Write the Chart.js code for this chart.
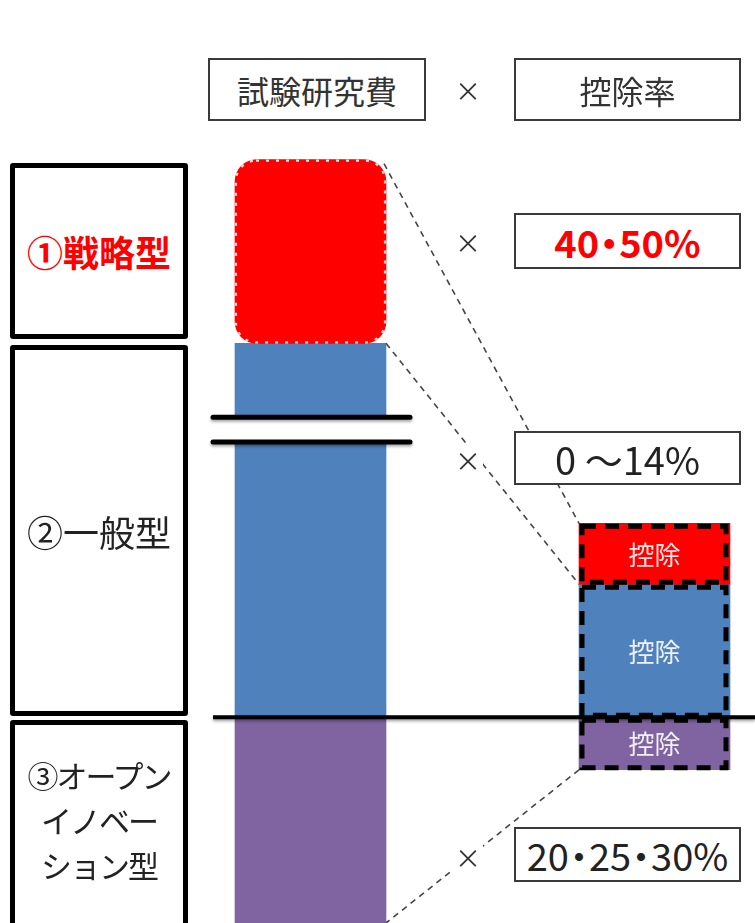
<!DOCTYPE html>
<html><head><meta charset="utf-8">
<script src="https://cdn.jsdelivr.net/npm/chart.js@4/dist/chart.umd.min.js"></script>
<style>
html,body{margin:0;padding:0;background:#fff;width:755px;height:923px;overflow:hidden;}
#wrap{position:relative;width:755px;height:923px;font-family:"Noto Sans CJK JP","Noto Sans",sans-serif;color:#222;}
canvas{position:absolute;left:0;top:0;}
.box{position:absolute;box-sizing:border-box;background:#fff;display:flex;align-items:center;justify-content:center;white-space:nowrap;}
.thin{border:2px solid #3a3a3a;}
.thick{border:5px solid #000;border-radius:3px;}
.x{position:absolute;width:30px;height:34px;margin-left:-15px;margin-top:-17px;background:#fff;font-size:26px;line-height:34px;text-align:center;color:#333;}
.lbl{position:absolute;color:#fff;font-size:26px;line-height:30px;transform:translate(-50%,-50%);opacity:.9;white-space:nowrap;}
.dot{display:inline-block;margin:0 -9px;}
</style></head>
<body>
<div id="wrap">
<canvas id="c" width="755" height="923"></canvas>
</div>
<script>
// ---- data ----
const categories = ['試験研究費', '控除'];
const seriesNames = ['①戦略型', '②一般型', '③オープンイノベーション型'];
const strategicType = [[62.8, 82.7], [36.7, 43.3]];
const generalType = [[22.3, 62.8], [22.3, 36.7]];
const openInnovationType = [[0, 22.3], [16.6, 22.3]];
const headerLabels = ['試験研究費', '控除率'];
const rateLabels = ['40・50%', '0 ～14%', '20・25・30%'];
const segmentLabel = '控除';
const axisBreak = [52.1, 54.8];
const baseline = 22.3;

const colors = ['#ff0000', '#4f81bd', '#8064a2'];

function props(el){ return el.getProps(['x','y','base','width'], true); }

const decor = {
  id: 'decor',
  afterDatasetsDraw(chart) {
    const ctx = chart.ctx, ys = chart.scales.y;
    const m = [0,1,2].map(i => chart.getDatasetMeta(i).data);
    const lRed = props(m[0][0]), lBlue = props(m[1][0]), lPur = props(m[2][0]);
    const rRed = props(m[0][1]), rBlue = props(m[1][1]), rPur = props(m[2][1]);
    ctx.save();
    // dashed light border on rounded strategic bar
    ctx.strokeStyle = 'rgba(255,215,215,1)';
    ctx.lineWidth = 2.2; ctx.setLineDash([3,7]);
    ctx.beginPath();
    ctx.roundRect(lRed.x - lRed.width/2 + 1, lRed.y + 1, lRed.width - 2, lRed.base - lRed.y - 2, 20);
    ctx.stroke();
    // axis break on left bar
    const bTop = ys.getPixelForValue(axisBreak[1]), bBot = ys.getPixelForValue(axisBreak[0]);
    const bx0 = lBlue.x - lBlue.width/2 - 22, bx1 = lBlue.x + lBlue.width/2 + 24;
    ctx.setLineDash([]);
    ctx.fillStyle = '#fff';
    ctx.fillRect(bx0, bTop, bx1 - bx0, bBot - bTop);
    ctx.shadowColor = 'rgba(0,0,0,0.35)'; ctx.shadowBlur = 3; ctx.shadowOffsetY = 2;
    ctx.strokeStyle = '#000'; ctx.lineWidth = 5; ctx.lineCap = 'round';
    [bTop, bBot].forEach(yy => { ctx.beginPath(); ctx.moveTo(bx0, yy); ctx.lineTo(bx1, yy); ctx.stroke(); });
    // baseline
    const by = ys.getPixelForValue(baseline);
    ctx.lineWidth = 4; ctx.lineCap = 'butt';
    ctx.beginPath(); ctx.moveTo(bx0, by); ctx.lineTo(chart.width, by); ctx.stroke();
    ctx.shadowColor = 'transparent';
    // dashed boxes on right segments
    ctx.strokeStyle = '#000'; ctx.lineWidth = 5; ctx.setLineDash([14, 9]);
    [rRed, rBlue, rPur].forEach(b => {
      const x0 = b.x - b.width/2 + 3, x1 = b.x + b.width/2 - 4;
      ctx.strokeRect(x0, b.y + 3, x1 - x0, b.base - b.y - 5);
    });
    // connectors
    ctx.strokeStyle = '#444'; ctx.lineWidth = 1.6; ctx.setLineDash([6, 5]);
    const line = (ax, ay, bx, by2) => { ctx.beginPath(); ctx.moveTo(ax, ay); ctx.lineTo(bx, by2); ctx.stroke(); };
    line(lRed.x + lRed.width/2 - 2, lRed.y + 4, rRed.x - rRed.width/2, rRed.y);
    line(lBlue.x + lBlue.width/2, lBlue.y, rBlue.x - rBlue.width/2, rBlue.y);
    line(rPur.x - rPur.width/2, rPur.base, lPur.x + lPur.width/2, lPur.base);
    ctx.restore();
  }
};

const chart = new Chart(document.getElementById('c'), {
  type: 'bar',
  data: {
    labels: categories,
    datasets: [
      { label: seriesNames[0], data: strategicType, backgroundColor: colors[0], borderSkipped: false,
        borderRadius: c => c.dataIndex === 0 ? 22 : 0 },
      { label: seriesNames[1], data: generalType, backgroundColor: colors[1] },
      { label: seriesNames[2], data: openInnovationType, backgroundColor: colors[2] }
    ]
  },
  options: {
    responsive: false, animation: false, devicePixelRatio: 1,
    layout: { padding: { left: 310.5, right: 100.5, top: 0, bottom: 0 } },
    datasets: { bar: { grouped: false, barThickness: 151, clip: false } },
    plugins: { legend: { display: false }, tooltip: { enabled: false } },
    scales: {
      x: { display: false, offset: false },
      y: { display: false, min: 0, max: 100 }
    }
  },
  plugins: [decor]
});

// ---- HTML text overlays ----
const wrap = document.getElementById('wrap');
function box(cls, l, t, w, h, html, style) {
  const d = document.createElement('div');
  d.className = 'box ' + cls;
  d.style.cssText = `left:${l}px;top:${t}px;width:${w}px;height:${h}px;` + (style || '');
  d.innerHTML = html; wrap.appendChild(d); return d;
}
function times(x, y) {
  const d = document.createElement('div'); d.className = 'x';
  d.style.left = x + 'px'; d.style.top = y + 'px'; d.textContent = '×'; wrap.appendChild(d);
}
const narrowDots = s => s.split('・').join('<span class="dot">・</span>');
box('thin', 208, 58, 218, 63, headerLabels[0], 'font-size:32px;color:#333;');
box('thin', 514, 58, 227, 63, headerLabels[1], 'font-size:32px;color:#333;');
times(468, 90);
box('thin', 514, 213, 227, 56, narrowDots(rateLabels[0]), 'font-size:38px;font-weight:bold;color:#ff0000;');
times(468, 242);
box('thin', 514, 431, 227, 54, rateLabels[1], 'font-size:38px;color:#222;');
times(468, 460);
box('thin', 514, 827, 227, 55, narrowDots(rateLabels[2]), 'font-size:38px;color:#222;');
times(468, 857);

box('thick', 10, 163, 178, 176, seriesNames[0], 'font-size:36px;font-weight:bold;color:#ff0000;');
box('thick', 10, 345, 178, 371, seriesNames[1], 'font-size:36px;color:#222;');
box('thick', 10, 720, 178, 240, '③オープン<br>イノベー<br>ション型',
    'font-size:31px;line-height:45px;letter-spacing:-2px;text-align:center;align-items:flex-start;padding-top:27px;color:#222;');

// labels inside deduction segments, placed from chart elements
[0,1,2].forEach(i => {
  const b = chart.getDatasetMeta(i).data[1].getProps(['x','y','base'], true);
  const d = document.createElement('div'); d.className = 'lbl';
  d.style.left = b.x + 'px'; d.style.top = ((b.y + b.base) / 2) + 'px';
  d.textContent = segmentLabel; wrap.appendChild(d);
});
</script>
</body></html>
